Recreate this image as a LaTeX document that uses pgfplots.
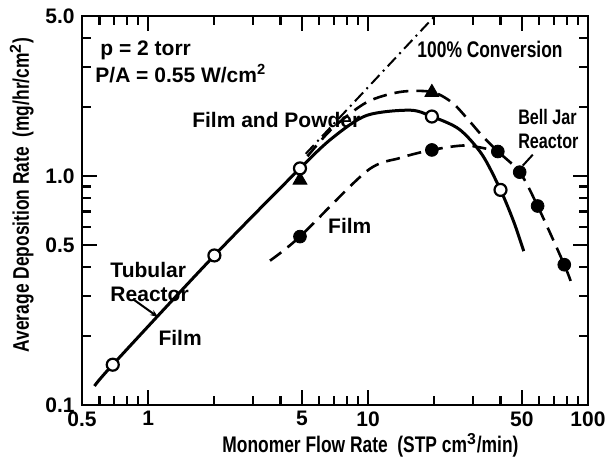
\documentclass[border=0pt]{standalone}
\usepackage{fontspec}
\setmainfont{Liberation Sans}
\newfontfamily\narrow{Liberation Sans}[FakeStretch=0.77]
\usepackage{pgfplots}
\pgfplotsset{compat=1.18}
\usetikzlibrary{arrows.meta}

\begin{document}
\fontsize{10.5}{12}\selectfont\bfseries
\begin{tikzpicture}[font=\fontsize{10.5}{12}\selectfont\bfseries]
\useasboundingbox (0,0) rectangle (304pt,228pt);
\begin{axis}[
  at={(41pt,25.5pt)}, anchor=south west,
  scale only axis, width=253pt, height=194.5pt,
  xmode=log, ymode=log,
  xmin=0.5, xmax=100, ymin=0.1, ymax=5,
  xtick={0.5,1,5,10,50,100}, xticklabels={0.5,1,5,10,50,100},
  minor xtick={0.6,0.7,0.8,0.9,2,3,4,6,7,8,9,20,30,40,60,70,80,90},
  ytick={0.1,0.5,1,5}, yticklabels={0.1,0.5,1.0,5.0},
  minor ytick={0.2,0.3,0.4,0.6,0.7,0.8,0.9,2,3,4},
  tick align=inside, major tick length=7.5pt, minor tick length=4.5pt,
  every tick/.style={black, line width=1.1pt},
  axis line style={line width=1.4pt},
  xlabel={\fontsize{11.3}{13}\narrow\selectfont Monomer Flow Rate\ \ (STP cm$^{\mathbf{3}}$/min)},
  ylabel={\fontsize{11.3}{13}\narrow\selectfont Average Deposition Rate\ \ (mg/hr/cm$^{\mathbf{2}}$)},
  xlabel style={at={(axis description cs:0.57,-0.103)}, anchor=center},
  ylabel style={at={(axis description cs:-0.119,0.54)}, anchor=center},
  xticklabel style={yshift=0.5pt},
  clip=false,
]
% tubular reactor (solid)
\addplot[black, line width=1.5pt, smooth, tension=0.5] coordinates {
  (0.57,0.121) (0.69,0.15) (2.0,0.45) (4.9,1.08) (6.9,1.47) (9.85,1.84)
  (15.5,1.94) (19.5,1.82) (26,1.6) (33,1.24) (40,0.87) (46,0.63) (51,0.47)};
% upper dashed (film and powder)
\addplot[black, line width=1.3pt, dash pattern=on 7pt off 4pt, smooth, tension=0.5] coordinates {
  (5.3,1.22) (6.9,1.62) (9.85,2.1) (14,2.33) (19.5,2.33) (24,2.1) (28,1.8)
  (33,1.5) (38.9,1.28) (48.9,1.04) (59,0.74) (78,0.41) (85,0.33)};
% lower dashed (film)
\addplot[black, line width=1.3pt, dash pattern=on 7pt off 4pt, smooth, tension=0.5] coordinates {
  (3.58,0.427) (4.9,0.544) (9.85,1.05) (14,1.2) (19.5,1.3) (28,1.36) (38.9,1.28)};
% 100% conversion
\addplot[black, line width=1pt, dash pattern=on 6pt off 2.5pt on 1pt off 2.5pt] coordinates {
  (5.2,1.25) (20.1,5.0)};
% markers
\addplot[only marks, mark=triangle*, mark size=4pt, black] coordinates {
  (4.9,0.96) (19.5,2.32)};
\addplot[only marks, mark=*, mark size=3pt, black, mark options={fill=white, line width=1.1pt}] coordinates {
  (0.69,0.15) (2.0,0.45) (4.9,1.08) (19.5,1.82) (40,0.87)};
\addplot[only marks, mark=*, mark size=3.2pt, black] coordinates {
  (4.9,0.544) (19.5,1.3) (38.9,1.28) (48.9,1.04) (59,0.74) (78,0.41)};
% annotations
\node[anchor=west, inner sep=0pt] at (axis cs:0.604,3.55) {p = 2 torr};
\node[anchor=west, inner sep=0pt] at (axis cs:0.573,2.81) {P/A = 0.55 W/cm$^{\mathbf{2}}$};
\node[anchor=west, inner sep=0pt] at (axis cs:1.58,1.75) {Film and Powder};
\node[anchor=west, inner sep=0pt] at (axis cs:16.7,3.59) {\fontsize{11.3}{13}\narrow\selectfont 100\% Conversion};
\node[anchor=west, inner sep=0pt, align=left] at (axis cs:48,1.6) {\narrow Bell Jar\\\narrow Reactor};
\node[anchor=west, inner sep=0pt] at (axis cs:6.56,0.608) {Film};
\node[anchor=west, inner sep=0pt, align=left] at (axis cs:0.671,0.345) {Tubular\\Reactor};
\node[anchor=west, inner sep=0pt] at (axis cs:1.11,0.197) {Film};
\draw[line width=1pt] (axis cs:56.1,1.24) -- (axis cs:50.5,1.11);
\draw[line width=1pt, -{Stealth[length=4pt]}] (axis cs:0.853,0.29) -- (axis cs:1.11,0.242);
\end{axis}
\end{tikzpicture}
\end{document}
